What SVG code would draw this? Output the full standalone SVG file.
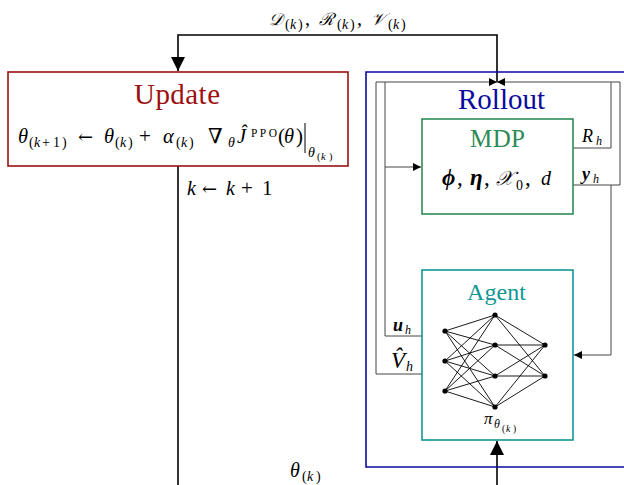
<svg xmlns="http://www.w3.org/2000/svg" width="624" height="485" viewBox="0 0 624 485">
<style>
.m{font-family:"Liberation Serif","DejaVu Serif",serif;font-style:italic;fill:#000}
.r{font-family:"Liberation Serif","DejaVu Serif",serif;font-style:normal;fill:#000}
.a{font-family:"DejaVu Serif","Liberation Serif",serif;font-style:normal;fill:#000}
.thick{stroke:#000;stroke-width:1.6;fill:none}
.thin{stroke:#444;stroke-width:1;fill:none}
.nn line{stroke:#000;stroke-width:0.9}
.nn circle{fill:#000}
</style>
<defs>
<marker id="as" viewBox="0 0 10 10" refX="10" refY="5" markerWidth="10" markerHeight="8" markerUnits="userSpaceOnUse" orient="auto">
<path d="M0,0 L10,5 L0,10 Z" fill="#000"/>
</marker>
<marker id="ab2" viewBox="0 0 10 10" refX="10" refY="5" markerWidth="16" markerHeight="14" markerUnits="userSpaceOnUse" orient="auto">
<path d="M0,0 L10,5 L0,10 Z" fill="#000"/>
</marker>
</defs>

<g id="connectors">
<path class="thick" d="M497,82 V35 H178 V71" marker-end="url(#ab2)"/>
<path class="thick" d="M178,166 V485"/>
<path class="thick" d="M497,485 V441" marker-end="url(#ab2)"/>
<path class="thin" d="M376,82 H497" marker-end="url(#as)"/>
<path class="thin" d="M620,82 H497" marker-end="url(#as)"/>
<path class="thin" d="M376,82 V374 H422"/>
<path class="thin" d="M385,82 V336 H422"/>
<path class="thin" d="M385,167 H421" marker-end="url(#as)"/>
<path class="thin" d="M573,148 H611 V82"/>
<path class="thin" d="M573,185 H620 V82"/>
<path class="thin" d="M611,185 V355 H574" marker-end="url(#as)"/>
</g>

<g id="labels">
<text class="m" font-size="17"><tspan x="269" y="25">𝒟</tspan><tspan x="319" y="25">ℛ</tspan><tspan x="371" y="25">𝒱</tspan></text>
<text class="r" font-size="14"><tspan x="285" y="29">(</tspan><tspan x="298" y="29">)</tspan><tspan x="337" y="29">(</tspan><tspan x="350" y="29">)</tspan><tspan x="388" y="29">(</tspan><tspan x="401" y="29">)</tspan></text>
<text class="m" font-size="14"><tspan x="290" y="29">k</tspan><tspan x="342" y="29">k</tspan><tspan x="393" y="29">k</tspan></text>
<text class="r" font-size="20"><tspan x="305" y="25">,</tspan><tspan x="357" y="25">,</tspan></text>

<text class="m" font-size="20"><tspan x="187" y="195">k</tspan><tspan x="226" y="195">k</tspan></text>
<text class="a" font-size="18" x="202" y="195" textLength="19">←</text>
<text class="r" font-size="21"><tspan x="241" y="195">+</tspan><tspan x="262" y="195">1</tspan></text>

<text class="m" font-size="20" x="290" y="477">θ</text>
<text class="r" font-size="14"><tspan x="302" y="481">(</tspan><tspan x="316" y="481">)</tspan></text>
<text class="m" font-size="14" x="307" y="481">k</text>
</g>

<g id="update">
<rect x="8" y="72" width="340" height="94" fill="#fff" stroke="#9b1111" stroke-width="1.6"/>
<text class="r" x="134" y="104" font-size="29" textLength="86" style="fill:#9b1111">Update</text>
<text class="m" font-size="20.5"><tspan x="18" y="143">θ</tspan><tspan x="104" y="143">θ</tspan><tspan x="163" y="143">α</tspan><tspan x="237" y="143">Ĵ</tspan><tspan x="284" y="143">θ</tspan></text>
<text class="r" font-size="21"><tspan x="139" y="143">+</tspan><tspan x="208" y="143">∇</tspan><tspan x="278" y="143">(</tspan><tspan x="296" y="143">)</tspan></text>
<text class="a" font-size="18" x="78" y="143" textLength="21">←</text>
<text class="r" font-size="14"><tspan x="29" y="147">(</tspan><tspan x="42" y="147">+</tspan><tspan x="53" y="147">1</tspan><tspan x="62" y="147">)</tspan><tspan x="115" y="147">(</tspan><tspan x="128" y="147">)</tspan><tspan x="176" y="147">(</tspan><tspan x="189" y="147">)</tspan></text>
<text class="m" font-size="14"><tspan x="34" y="147">k</tspan><tspan x="120" y="147">k</tspan><tspan x="181" y="147">k</tspan><tspan x="228" y="147">θ</tspan></text>
<text class="r" font-size="11.5" x="251" y="137" textLength="26">PPO</text>
<line x1="305" y1="123" x2="305" y2="153" stroke="#000" stroke-width="1"/>
<text class="m" font-size="14" x="308" y="157">θ</text>
<text class="r" font-size="10.5"><tspan x="317" y="160">(</tspan><tspan x="329" y="160">)</tspan></text>
<text class="m" font-size="10.5" x="321" y="160">k</text>
</g>

<g id="rollout">
<path d="M624,72 H366 V467 H624" fill="none" stroke="#0a0a9e" stroke-width="1.6"/>
<text class="r" x="458" y="109" font-size="29" textLength="87" style="fill:#0a0a9e">Rollout</text>
</g>

<g id="mdp">
<rect x="422" y="119" width="151" height="95" fill="#fff" stroke="#2e8b57" stroke-width="1.6"/>
<text class="r" x="470" y="147" font-size="25" textLength="55" style="fill:#2e8b57">MDP</text>
<text class="m" font-size="23" font-weight="bold"><tspan x="442" y="185">ϕ</tspan><tspan x="470" y="185">η</tspan></text>
<text class="m" font-size="20"><tspan x="496" y="185">𝒳</tspan><tspan x="541" y="185">d</tspan></text>
<text class="r" font-size="23"><tspan x="457" y="185">,</tspan><tspan x="484" y="185">,</tspan><tspan x="525" y="185">,</tspan></text>
<text class="r" font-size="14" x="516" y="190">0</text>
<text class="m" font-size="18" x="582" y="142">R</text>
<text class="m" font-size="12" x="596" y="145">h</text>
<text class="m" font-size="18" font-weight="bold" x="582" y="180">y</text>
<text class="m" font-size="12" x="593" y="183">h</text>
</g>

<g id="agent">
<rect x="422" y="270" width="151" height="170" fill="#fff" stroke="#129696" stroke-width="1.6"/>
<text class="r" x="467" y="300" font-size="24" textLength="59" style="fill:#129696">Agent</text>
<text class="m" font-size="18" font-weight="bold" x="393" y="331">u</text>
<text class="m" font-size="12" x="405" y="334">h</text>
<text class="m" font-size="23" x="391" y="368">V̂</text>
<text class="m" font-size="14" x="406" y="371">h</text>
<text class="m" font-size="17" x="484" y="424">π</text>
<text class="m" font-size="12" x="494" y="428">θ</text>
<text class="r" font-size="9.5"><tspan x="502" y="432">(</tspan><tspan x="513" y="432">)</tspan></text>
<text class="m" font-size="9.5" x="506" y="432">k</text>
<g class="nn">
<line x1="445" y1="331" x2="495" y2="315"/><line x1="445" y1="331" x2="495" y2="345"/><line x1="445" y1="331" x2="495" y2="376"/><line x1="445" y1="331" x2="495" y2="407"/>
<line x1="445" y1="361" x2="495" y2="315"/><line x1="445" y1="361" x2="495" y2="345"/><line x1="445" y1="361" x2="495" y2="376"/><line x1="445" y1="361" x2="495" y2="407"/>
<line x1="445" y1="391" x2="495" y2="315"/><line x1="445" y1="391" x2="495" y2="345"/><line x1="445" y1="391" x2="495" y2="376"/><line x1="445" y1="391" x2="495" y2="407"/>
<line x1="495" y1="315" x2="545" y2="345"/><line x1="495" y1="315" x2="545" y2="376"/>
<line x1="495" y1="345" x2="545" y2="345"/><line x1="495" y1="345" x2="545" y2="376"/>
<line x1="495" y1="376" x2="545" y2="345"/><line x1="495" y1="376" x2="545" y2="376"/>
<line x1="495" y1="407" x2="545" y2="345"/><line x1="495" y1="407" x2="545" y2="376"/>
<circle cx="445" cy="331" r="2.6"/><circle cx="445" cy="361" r="2.6"/><circle cx="445" cy="391" r="2.6"/>
<circle cx="495" cy="315" r="2.6"/><circle cx="495" cy="345" r="2.6"/><circle cx="495" cy="376" r="2.6"/><circle cx="495" cy="407" r="2.6"/>
<circle cx="545" cy="345" r="2.6"/><circle cx="545" cy="376" r="2.6"/>
</g>
</g>
</svg>
